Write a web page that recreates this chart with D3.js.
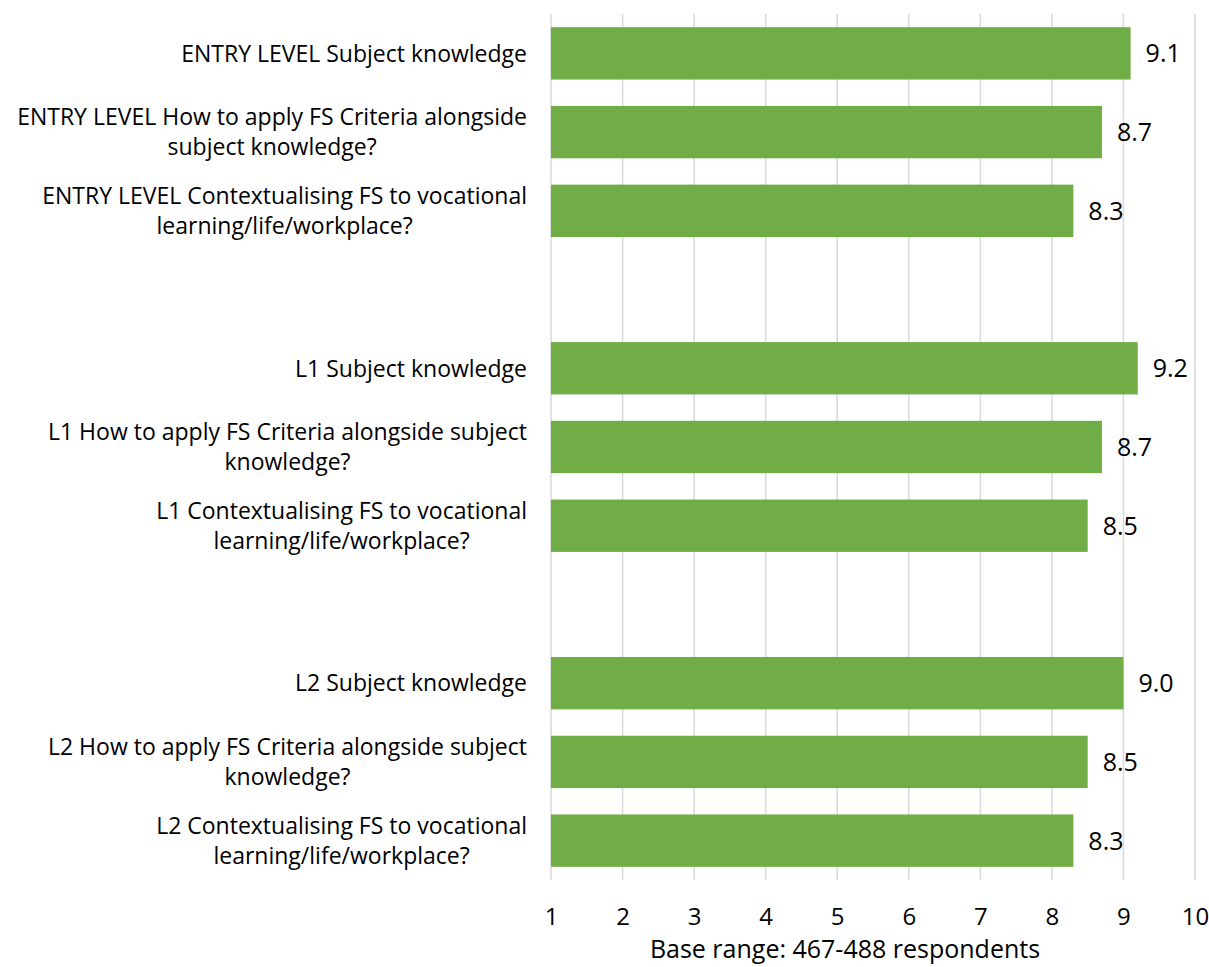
<!DOCTYPE html>
<html>
<head>
<meta charset="utf-8">
<script src="https://cdn.jsdelivr.net/npm/d3@7"></script>
<style>
  html, body { margin: 0; padding: 0; background: #fff; }
  svg { display: block; font-family: "Open Sans", sans-serif; }
</style>
</head>
<body>
<svg id="chart" width="1209" height="967"></svg>
<script>
// Category labels (top to bottom); empty strings are spacer rows between levels
const categories = [
  "ENTRY LEVEL Subject knowledge",
  "ENTRY LEVEL How to apply FS Criteria alongside|subject knowledge?",
  "ENTRY LEVEL Contextualising FS to vocational|learning/life/workplace?",
  "",
  "L1 Subject knowledge",
  "L1 How to apply FS Criteria alongside subject|knowledge?",
  "L1 Contextualising FS to vocational|learning/life/workplace?",
  " ",
  "L2 Subject knowledge",
  "L2 How to apply FS Criteria alongside subject|knowledge?",
  "L2 Contextualising FS to vocational|learning/life/workplace?"
];
const values = [9.1, 8.7, 8.3, null, 9.2, 8.7, 8.5, null, 9.0, 8.5, 8.3];
const xTicks = [1, 2, 3, 4, 5, 6, 7, 8, 9, 10];
const axisTitle = "Base range: 467-488 respondents";

const svg = d3.select("#chart");
const margin = { left: 551, right: 14, top: 14, bottom: 87 };
const W = 1209, H = 967;

const x = d3.scaleLinear().domain([1, 10]).range([margin.left, W - margin.right]);
const y = d3.scaleBand().domain(categories).range([margin.top, H - margin.bottom])
  .paddingInner(0.335).paddingOuter(0.1675);

// vertical gridlines
svg.append("g").selectAll("line").data(xTicks).join("line")
  .attr("x1", d => x(d)).attr("x2", d => x(d))
  .attr("y1", margin.top).attr("y2", H - margin.bottom)
  .attr("stroke", "#d9d9d9").attr("stroke-width", 1.5);

// x-axis tick labels
const xAxis = d3.axisBottom(x).tickValues(xTicks).tickSize(0).tickPadding(0).tickFormat(d3.format("d"));
const gx = svg.append("g").attr("transform", `translate(0,${H - margin.bottom + 28})`).call(xAxis);
gx.select(".domain").remove();
gx.selectAll("text").attr("font-size", 24).attr("fill", "#000")
  .attr("font-family", "'Open Sans', sans-serif").attr("dy", "0.72em");

// bars
const rows = categories.map((c, i) => ({ c, v: values[i] })).filter(d => d.v != null);
svg.append("g").selectAll("rect").data(rows).join("rect")
  .attr("x", x(1)).attr("y", d => y(d.c))
  .attr("width", d => x(d.v) - x(1)).attr("height", y.bandwidth())
  .attr("fill", "#70ad47");

// value labels
svg.append("g").selectAll("text").data(rows).join("text")
  .attr("x", d => x(d.v) + 15).attr("y", d => y(d.c) + y.bandwidth() / 2)
  .attr("dy", "0.36em").attr("font-size", 25).attr("fill", "#000")
  .text(d => d3.format(".1f")(d.v));

// category labels, centred per line and right-aligned as a block
const lab = svg.append("g").selectAll("text").data(rows).join("text")
  .attr("font-size", 23).attr("fill", "#000").attr("text-anchor", "middle");
lab.each(function(d) {
  const lines = d.c.split("|");
  const t = d3.select(this);
  const cy = y(d.c) + y.bandwidth() / 2;
  const lh = 30;
  lines.forEach((ln, i) => {
    t.append("tspan").attr("y", cy + (i - (lines.length - 1) / 2) * lh).attr("dy", "0.36em").text(ln);
  });
  // measure widest line and place block's right edge at 527
  const widths = [];
  t.selectAll("tspan").each(function() { widths.push(this.getComputedTextLength()); });
  const maxW = d3.max(widths);
  t.selectAll("tspan").attr("x", 527 - maxW / 2);
});

// axis title
svg.append("text").attr("x", 845).attr("y", 958)
  .attr("text-anchor", "middle").attr("font-size", 25).attr("fill", "#000")
  .text(axisTitle);
</script>
</body>
</html>
